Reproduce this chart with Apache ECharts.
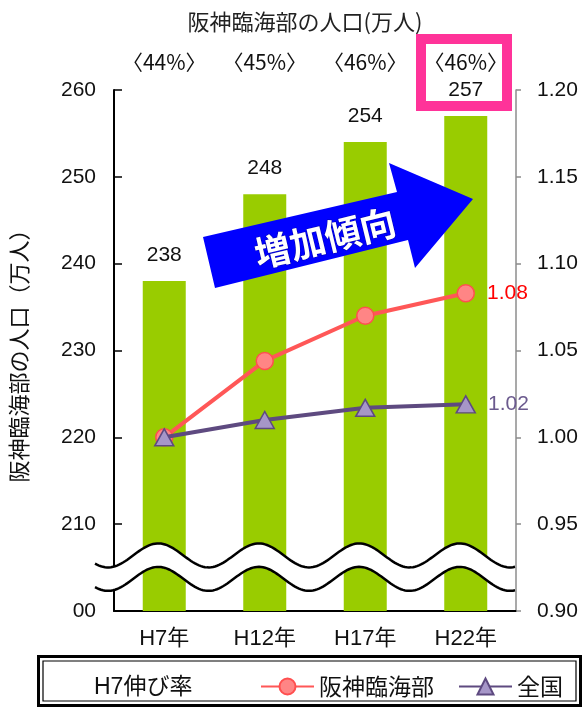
<!DOCTYPE html>
<html>
<head>
<meta charset="utf-8">
<style>
  html, body { margin: 0; padding: 0; background: #fff; }
  #chart { width: 584px; height: 709px; }
</style>
<script src="https://cdn.jsdelivr.net/npm/echarts@6/dist/echarts.min.js"></script>
</head>
<body>
<div id="chart"></div>
<script>
// 阪神臨海部の人口と H7 を基準とした伸び率
const categories = ['H7年', 'H12年', 'H17年', 'H22年'];
const population = [238, 248, 254, 257];             // 万人
const shareLabels = ['〈44%〉', '〈45%〉', '〈46%〉', '〈46%〉'];
const hanshinGrowth = [1.000, 1.044, 1.070, 1.083];  // 阪神臨海部 H7伸び率
const nationalGrowth = [1.000, 1.010, 1.017, 1.019]; // 全国 H7伸び率
const popMin = 200, popMax = 260, popStep = 10;
const rateMin = 0.90, rateMax = 1.20, rateStep = 0.05;

const JP = '"Noto Sans CJK JP", "Noto Sans", sans-serif';
const NUM = '"Liberation Sans", "Noto Sans CJK JP", sans-serif';
const INK = '#111';
const chart = echarts.init(document.getElementById('chart'), null, { renderer: 'canvas' });

const lastIdx = categories.length - 1;
function endValueLabel(color) {
  return {
    show: true,
    position: 'right',
    distance: 12,
    fontFamily: NUM,
    fontSize: 21,
    color: color,
    formatter: p => (p.dataIndex === lastIdx ? Number(p.value).toFixed(2) : '')
  };
}

chart.setOption({
  animation: false,
  textStyle: { fontFamily: JP },
  title: {
    text: '阪神臨海部の人口(万人)',
    left: 300, top: 6, textAlign: 'center',
    textStyle: { fontFamily: JP, fontSize: 22, fontWeight: 'normal', color: '#222' }
  },
  grid: { left: 103, right: 68, top: 90, bottom: 98 },
  legend: {
    data: ['阪神臨海部', '全国'],
    left: 260, top: 675,
    padding: 0,
    itemWidth: 53, itemHeight: 20, itemGap: 24,
    textStyle: { fontFamily: JP, fontSize: 23, color: INK }
  },
  xAxis: [
    {
      type: 'category', data: categories, position: 'bottom',
      axisLine: { lineStyle: { color: '#000', width: 2 } },
      axisTick: { inside: true, length: 6, lineStyle: { color: '#000', width: 1.5 } },
      axisLabel: { fontFamily: NUM, fontSize: 22, color: INK, margin: 17 }
    },
    {
      type: 'category', data: shareLabels, position: 'top',
      axisLine: { show: false }, axisTick: { show: false },
      axisLabel: { interval: 0, fontFamily: JP, fontSize: 21, color: INK, margin: 17 }
    }
  ],
  yAxis: [
    {
      type: 'value', min: popMin, max: popMax, interval: popStep,
      name: '阪神臨海部の人口（万人）', nameLocation: 'middle', nameGap: 84,
      nameTextStyle: { fontFamily: JP, fontSize: 22, color: INK },
      axisLine: { show: true, lineStyle: { color: '#000', width: 2 } },
      axisTick: { show: true, inside: true, length: 8, lineStyle: { color: '#000', width: 1.5 } },
      axisLabel: { fontFamily: NUM, fontSize: 21, color: INK, margin: 18 },
      splitLine: { show: false }
    },
    {
      type: 'value', min: rateMin, max: rateMax, interval: rateStep, position: 'right',
      axisLine: { show: true, lineStyle: { color: '#8c8c8c', width: 1.5 } },
      axisTick: { show: true, inside: false, length: 5, lineStyle: { color: '#8c8c8c', width: 1.5 } },
      axisLabel: { fontFamily: NUM, fontSize: 21, color: INK, margin: 21,
                   formatter: v => v.toFixed(2) },
      splitLine: { show: false }
    }
  ],
  series: [
    {
      name: '人口', type: 'bar', xAxisIndex: 0, yAxisIndex: 0,
      data: population, barWidth: 43,
      itemStyle: { color: '#99cc00' },
      label: { show: true, position: 'top', distance: 15,
               fontFamily: NUM, fontSize: 21, color: INK }
    },
    {
      name: '阪神臨海部', type: 'line', xAxisIndex: 0, yAxisIndex: 1,
      data: hanshinGrowth,
      symbol: 'circle', symbolSize: 17,
      lineStyle: { color: '#ff5757', width: 4 },
      itemStyle: { color: '#ff8585', borderColor: '#ff4f4f', borderWidth: 1.5 },
      label: endValueLabel('#ff0000'),
      z: 3
    },
    {
      name: '全国', type: 'line', xAxisIndex: 0, yAxisIndex: 1,
      data: nationalGrowth,
      symbol: 'triangle', symbolSize: [19, 17],
      lineStyle: { color: '#5e4a80', width: 4 },
      itemStyle: { color: '#a696c8', borderColor: '#5e4a80', borderWidth: 1.5 },
      label: endValueLabel('#6b5a8e'),
      z: 4
    }
  ]
});

// Axis break band (wavy double line) drawn across the lower part of the plot
function breakBand() {
  const centers = categories.map(c => chart.convertToPixel({ xAxisIndex: 0 }, c));
  const period = centers[1] - centers[0];
  const peakX = centers[0] - 6;
  const topMid = chart.convertToPixel({ yAxisIndex: 0 }, 206.4);
  const botMid = chart.convertToPixel({ yAxisIndex: 0 }, 203.7);
  const amp = 12;
  const x0 = 95, x1 = 515;
  const top = [], bot = [];
  for (let x = x0; x <= x1; x += 2) {
    const c = Math.cos(2 * Math.PI * (x - peakX) / period);
    top.push([x, topMid - amp * c]);
    bot.push([x, botMid - amp * c]);
  }
  return [
    { type: 'polygon', z: 50, shape: { points: top.concat(bot.slice().reverse()) },
      style: { fill: '#fff', stroke: null } },
    { type: 'polyline', z: 51, shape: { points: top }, style: { stroke: '#000', lineWidth: 2.5, fill: null } },
    { type: 'polyline', z: 51, shape: { points: bot }, style: { stroke: '#000', lineWidth: 2.5, fill: null } }
  ];
}

chart.setOption({
  graphic: breakBand().concat([
    // partially hidden bottom tick label of the left axis
    { type: 'rect', z: 60, shape: { x: 0, y: 596, width: 72, height: 28 }, style: { fill: '#fff' } },
    // highlight frame around the latest year's share
    { type: 'rect', z: 40, shape: { x: 421, y: 39, width: 86, height: 67 },
      style: { fill: null, stroke: '#ff3399', lineWidth: 10 } },
    // trend arrow
    { type: 'polygon', z: 45,
      shape: { points: [[203, 237], [397, 192], [389, 163], [473, 199], [415, 268], [408, 240], [215, 288]] },
      style: { fill: '#0000ff' } },
    { type: 'text', z: 46, x: 325, y: 238, rotation: 13.6 * Math.PI / 180,
      style: { text: '増加傾向', fontFamily: JP, fontSize: 36, fontWeight: 'bold',
               fill: '#fff', stroke: 'rgba(0,0,90,0.5)', lineWidth: 1,
               align: 'center', verticalAlign: 'middle' } },
    // legend frame
    { type: 'rect', z: 40, shape: { x: 38.5, y: 656.5, width: 542, height: 49 },
      style: { fill: null, stroke: '#000', lineWidth: 3 } },
    { type: 'rect', z: 40, shape: { x: 43, y: 661, width: 533, height: 40 },
      style: { fill: null, stroke: '#000', lineWidth: 1.2 } },
    { type: 'text', z: 41, x: 94, y: 688,
      style: { text: 'H7伸び率', fontFamily: NUM, fontSize: 23, fill: INK,
               align: 'left', verticalAlign: 'middle' } }
  ])
});
</script>
</body>
</html>
